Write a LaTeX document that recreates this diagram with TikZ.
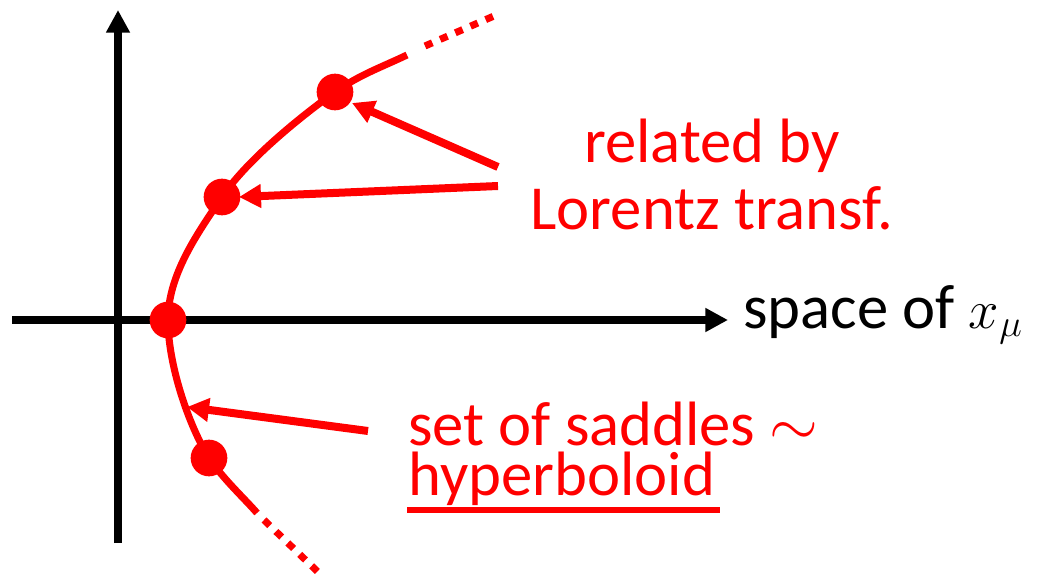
\documentclass[tikz,border=0pt]{standalone}
\usepackage{fix-cm}
\usepackage{fontspec}
\setmainfont{Carlito}
\usetikzlibrary{arrows.meta}
\definecolor{pred}{RGB}{255,0,0}
\begin{document}
\begin{tikzpicture}[x=0.75pt,y=-0.75pt,
  axis/.style={line width=6pt,black,-{Triangle[length=17pt,width=17pt]}},
  curve/.style={line width=5.3pt,pred},
  dotted end/.style={line width=5.3pt,pred,dash pattern=on 6pt off 6.4pt},
  pointer/.style={line width=6pt,pred,-{Triangle[length=16.5pt,width=17pt]}},
  saddle/.style={circle,fill=pred,inner sep=0pt,minimum size=27.5pt},
  lbl/.style={inner sep=0pt,font=\fontsize{47}{50}\selectfont},
  redlbl/.style={lbl,text=pred}]
\useasboundingbox (0,0) rectangle (1046,574);
% axes
\coordinate (vb) at (118,543);
\coordinate (vt) at (118,10);
\coordinate (hl) at (12,320);
\coordinate (hr) at (728,320);
\draw[axis] (vb) -- (vt);
\draw[axis] (hl) -- (hr);
\node[lbl,anchor=base west] (space) at (743,328) {space of {\fontsize{41}{41}\selectfont$x_\mu$}};
% curve
\coordinate (ct) at (407,55);
\coordinate (cb) at (257,513);
\draw[curve] (ct) .. controls (382,67) and (360,74.5) .. (335,92)
  .. controls (300,117) and (247,160) .. (222,197)
  .. controls (197,234) and (168,275) .. (168,320)
  .. controls (168,365) and (189,426) .. (209,458)
  .. controls (224,480) and (245,499) .. (cb);
\coordinate (dt1) at (425,46);
\coordinate (dt2) at (494,16);
\coordinate (db1) at (264,520);
\coordinate (db2) at (318,572);
\draw[dotted end] (dt1) -- (dt2);
\draw[dotted end] (db1) -- (db2);
% saddle points
\node[saddle] (s1) at (335,92) {};
\node[saddle] (s2) at (222,197) {};
\node[saddle] (s3) at (168,320) {};
\node[saddle] (s4) at (209,458) {};
% labels
\node[redlbl,anchor=base] (rel) at (712,163) {related by};
\node[redlbl,anchor=base] (lor) at (712,229) {Lorentz transf.};
\node[redlbl,anchor=base west,align=left,font=\fontsize{47}{37.5}\selectfont] (set) at (408,495) {set of saddles $\sim$\\hyperboloid};
\draw[pred,line width=3.8pt] (407,510) -- (720,510);
% pointers
\coordinate (p1) at (498,167);
\coordinate (p2) at (498,186);
\coordinate (p3) at (368,431);
\coordinate (t1) at (352,103);
\coordinate (t2) at (239,197);
\coordinate (t3) at (187,407);
\draw[pointer] (p1) -- (t1);
\draw[pointer] (p2) -- (t2);
\draw[pointer] (p3) -- (t3);
\end{tikzpicture}
\end{document}
